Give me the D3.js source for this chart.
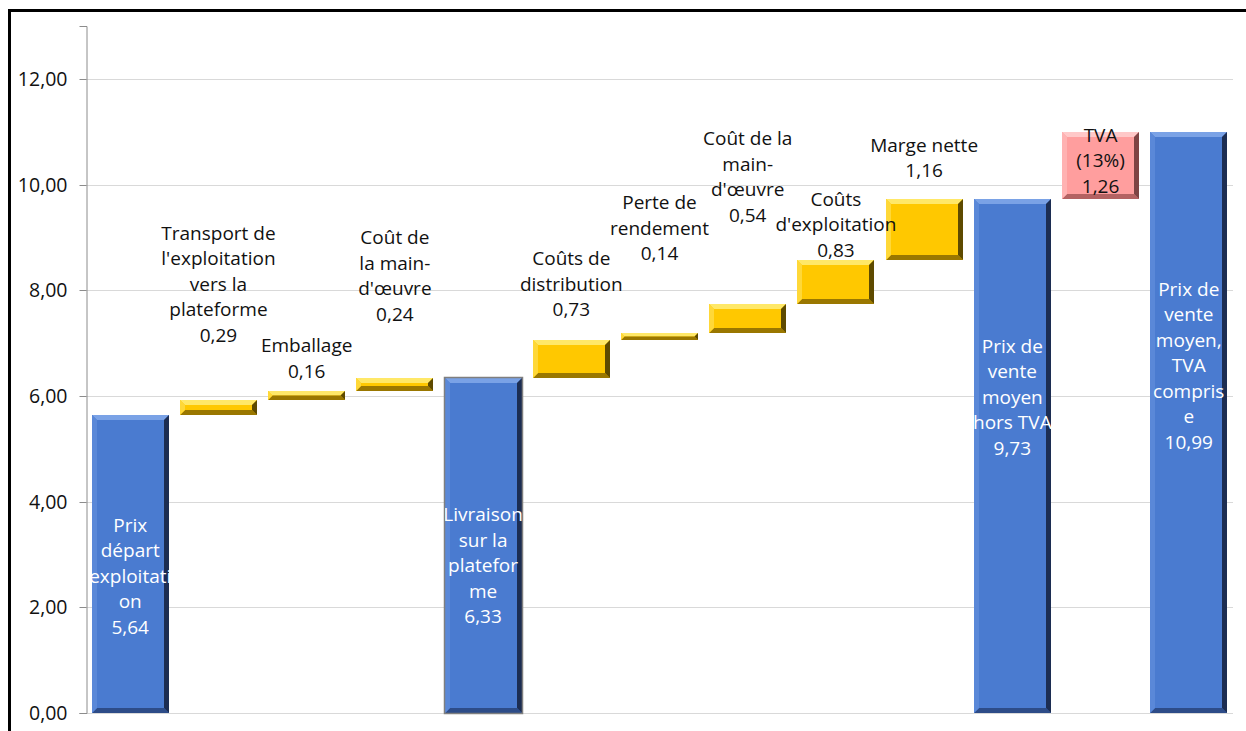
<!DOCTYPE html>
<html>
<head>
<meta charset="utf-8">
<script src="https://cdn.jsdelivr.net/npm/d3@7"></script>
<style>
  body { margin: 0; background: #fff; }
  svg text { font-family: "Open Sans", "Noto Sans", sans-serif; }
</style>
</head>
<body>
<svg id="chart" width="1246" height="731"></svg>
<script>
// categories (as wrapped in the original chart)
const labelLines = [
  ['Prix', 'départ', 'exploitati', 'on'],
  ['Transport de', "l'exploitation", 'vers la', 'plateforme'],
  ['Emballage'],
  ['Coût de', 'la main-', "d'œuvre"],
  ['Livraison', 'sur la', 'platefor', 'me'],
  ['Coûts de', 'distribution'],
  ['Perte de', 'rendement'],
  ['Coût de la', 'main-', "d'œuvre"],
  ['Coûts', "d'exploitation"],
  ['Marge nette'],
  ['Prix de', 'vente', 'moyen', 'hors TVA'],
  ['TVA', '(13%)'],
  ['Prix de', 'vente', 'moyen,', 'TVA', 'compris', 'e']
]
// step values, € / kg
const values = [5.64, 0.29, 0.16, 0.24, 6.33, 0.73, 0.14, 0.54, 0.83, 1.16, 9.73, 1.26, 10.99]
// 'total' bars start at zero, the others float on the running sum
const kinds = ['total', 'step', 'step', 'step', 'total', 'step', 'step', 'step', 'step', 'step', 'total', 'tax', 'total']
const yTicks = [0, 2, 4, 6, 8, 10, 12]

// where the last label line sits, in axis units (labels were placed by hand)
const labelAt = [1.63, 7.15, 6.47, 7.55, 1.82, 7.63, 8.69, 9.42, 8.76, 10.26, 5.01, 9.97, 5.13]

const palette = {
  total: {face: '#4a7bd0', top: '#7aa2e6', left: '#5a88d8', bottom: '#2d4c88', right: '#1c2d52', text: '#fff'},
  step:  {face: '#ffc800', top: '#ffe868', left: '#ffd838', bottom: '#9a7700', right: '#5e4a00', text: '#111'},
  tax:   {face: '#ff9e9e', top: '#ffc8c8', left: '#ffb2b2', bottom: '#b46262', right: '#7e4444', text: '#111'}
}

const svg = d3.select('#chart')
const margin = {left: 86, right: 13, top: 26, bottom: 18}
const W = 1246, H = 731

const x = d3.scaleBand().domain(d3.range(values.length))
  .range([margin.left, W - margin.right]).paddingInner(0.127).paddingOuter(0.065)
const y = d3.scaleLinear().domain([0, 13]).range([H - margin.bottom, margin.top])

// running sum -> bar extents
let run = 0
const bars = values.map((v, i) => {
  let lo, hi
  if (kinds[i] === 'total') { lo = 0; hi = v; run = v }
  else { lo = run; hi = run + v; run = hi }
  return {i, v, lo, hi, kind: kinds[i]}
})

// frame
svg.append('rect').attr('x', 9.5).attr('y', 10.5).attr('width', 1400).attr('height', 900)
  .attr('fill', 'none').attr('stroke', '#000').attr('stroke-width', 3)

// grid
svg.append('g').selectAll('line').data(yTicks).join('line')
  .attr('x1', margin.left).attr('x2', W - margin.right)
  .attr('y1', d => Math.round(y(d)) + 0.5).attr('y2', d => Math.round(y(d)) + 0.5)
  .attr('stroke', '#d9d9d9').attr('stroke-width', 1)

// y axis
const yAxis = svg.append('g').attr('transform', `translate(${margin.left + 0.5},0)`)
  .call(d3.axisLeft(y).tickValues(yTicks).tickSize(7).tickPadding(12)
    .tickFormat(d => d3.format('.2f')(d).replace('.', ',')))
yAxis.select('.domain').attr('stroke', '#8c8c8c')
yAxis.selectAll('.tick line').attr('stroke', '#8c8c8c')
yAxis.selectAll('.tick').attr('transform', d => `translate(0,${Math.round(y(d)) + 0.5})`)
yAxis.selectAll('.tick text').attr('fill', '#111').style('font-size', '19.5px')
  .style('font-family', '"Open Sans", sans-serif')

// bevelled bars
const defs = svg.append('defs')
const barG = svg.append('g')
bars.forEach(d => {
  const c = palette[d.kind]
  const x0 = Math.round(x(d.i)), x1 = Math.round(x(d.i) + x.bandwidth())
  const y0 = Math.round(y(d.hi)), y1 = Math.round(y(d.lo))
  const b = Math.min(5, (y1 - y0) / 2, (x1 - x0) / 2)
  const g = barG.append('g')
  g.append('rect').attr('x', x0).attr('y', y0).attr('width', x1 - x0).attr('height', y1 - y0).attr('fill', c.face)
  const poly = (pts, fill) => g.append('polygon').attr('points', pts.map(p => p.join(',')).join(' ')).attr('fill', fill)
  poly([[x0, y0], [x1, y0], [x1 - b, y0 + b], [x0 + b, y0 + b]], c.top)
  poly([[x0, y1], [x1, y1], [x1 - b, y1 - b], [x0 + b, y1 - b]], c.bottom)
  poly([[x0, y0], [x0 + b, y0 + b], [x0 + b, y1 - b], [x0, y1]], c.left)
  poly([[x1, y0], [x1 - b, y0 + b], [x1 - b, y1 - b], [x1, y1]], c.right)
  if (d.i === 4) {
    g.append('rect').attr('x', x0 - 0.5).attr('y', y0 - 0.5).attr('width', x1 - x0 + 1).attr('height', y1 - y0 + 1)
      .attr('fill', 'none').attr('stroke', '#7f7f7f').attr('stroke-width', 1.5)
  }
  defs.append('clipPath').attr('id', 'clip' + d.i)
    .append('rect').attr('x', x0).attr('y', 0).attr('width', x1 - x0).attr('height', H)
})

// labels
const lineH = 25.5
const fmt = v => d3.format('.2f')(v).replace('.', ',')
const labG = svg.append('g')
bars.forEach(d => {
  const lines = labelLines[d.i].concat([fmt(d.v)])
  const cx = x(d.i) + x.bandwidth() / 2
  const last = y(labelAt[d.i])
  const t = labG.append('text')
    .attr('text-anchor', 'middle')
    .attr('fill', palette[d.kind].text)
    .style('font-size', '19px')
  if (d.kind === 'total') t.attr('clip-path', `url(#clip${d.i})`)
  lines.forEach((s, k) => {
    t.append('tspan').attr('x', cx)
      .attr('y', last - (lines.length - 1 - k) * lineH)
      .attr('dy', '0.35em').text(s)
  })
})
</script>
</body>
</html>
